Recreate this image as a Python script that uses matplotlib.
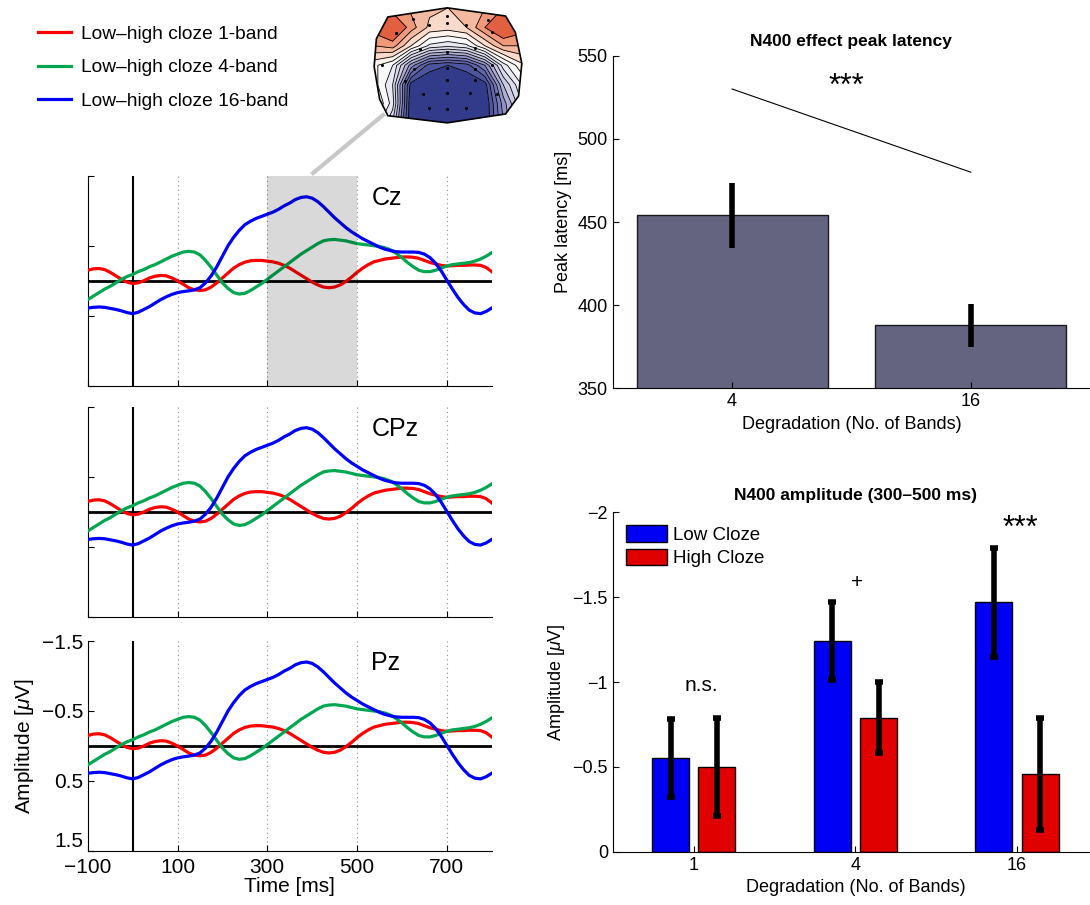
import numpy as np
import matplotlib
matplotlib.use('Agg')
import matplotlib.pyplot as plt
from matplotlib.colors import LinearSegmentedColormap, TwoSlopeNorm
from matplotlib.lines import Line2D
from matplotlib.patches import Polygon

plt.rcParams['font.family'] = ['Liberation Sans', 'DejaVu Sans']
plt.rcParams['mathtext.fontset'] = 'custom'
plt.rcParams['mathtext.rm'] = 'Liberation Sans'
plt.rcParams['mathtext.it'] = 'Liberation Sans:italic'

# ERP difference waves (low - high cloze), in uV, read every 12.5 ms
time_ms = np.arange(-100, 800.1, 12.5)
wave_1band = [-0.15, -0.17, -0.175, -0.16, -0.12, -0.07, -0.02, 0.02,
              0.04, 0.03, 0.00, -0.04, -0.065, -0.075, -0.07, -0.04,
              0.00, 0.05, 0.10, 0.13, 0.14, 0.13, 0.09, 0.03,
              -0.04, -0.11, -0.18, -0.23, -0.265, -0.285, -0.29, -0.29,
              -0.28, -0.27, -0.25, -0.22, -0.18, -0.13, -0.08, -0.03,
              0.02, 0.06, 0.09, 0.10, 0.09, 0.06, 0.01, -0.05,
              -0.12, -0.18, -0.23, -0.27, -0.29, -0.31, -0.32, -0.33,
              -0.34, -0.34, -0.335, -0.32, -0.29, -0.26, -0.24, -0.22,
              -0.21, -0.215, -0.22, -0.22, -0.225, -0.225, -0.22, -0.19,
              -0.13]
wave_4band = [0.27, 0.22, 0.17, 0.12, 0.08, 0.03, -0.02, -0.06,
              -0.09, -0.13, -0.16, -0.20, -0.23, -0.27, -0.31, -0.35,
              -0.38, -0.41, -0.42, -0.41, -0.37, -0.29, -0.19, -0.08,
              0.03, 0.11, 0.17, 0.19, 0.18, 0.14, 0.09, 0.04,
              -0.02, -0.08, -0.14, -0.20, -0.26, -0.32, -0.38, -0.43,
              -0.48, -0.53, -0.57, -0.585, -0.59, -0.58, -0.57, -0.55,
              -0.53, -0.52, -0.51, -0.50, -0.49, -0.47, -0.44, -0.39,
              -0.33, -0.26, -0.20, -0.15, -0.13, -0.13, -0.15, -0.18,
              -0.21, -0.23, -0.24, -0.25, -0.26, -0.28, -0.31, -0.35,
              -0.40]
wave_16band = [0.39, 0.38, 0.375, 0.38, 0.395, 0.41, 0.43, 0.455,
               0.47, 0.45, 0.41, 0.37, 0.32, 0.27, 0.23, 0.195,
               0.17, 0.155, 0.145, 0.13, 0.10, 0.03, -0.07, -0.20,
               -0.35, -0.50, -0.62, -0.72, -0.80, -0.85, -0.89, -0.92,
               -0.95, -0.98, -1.02, -1.07, -1.11, -1.16, -1.19, -1.20,
               -1.18, -1.13, -1.06, -0.98, -0.90, -0.83, -0.76, -0.70,
               -0.65, -0.60, -0.56, -0.52, -0.48, -0.45, -0.43, -0.415,
               -0.41, -0.41, -0.41, -0.405, -0.38, -0.33, -0.25, -0.14,
               -0.01, 0.12, 0.24, 0.34, 0.42, 0.46, 0.47, 0.44,
               0.39]
wave_labels = ['Low\u2013high cloze 1-band', 'Low\u2013high cloze 4-band', 'Low\u2013high cloze 16-band']
wave_colors = ['#ff0000', '#00a650', '#0000ff']
electrodes = ['Cz', 'CPz', 'Pz']

# scalp map (300-500 ms), coarse grid, uV, rows top->bottom
topo_x = [0, 0.125, 0.25, 0.375, 0.5, 0.625, 0.75, 0.875, 1.0]
topo_y = [0, 0.17, 0.33, 0.5, 0.67, 0.83, 1.0]
topo_vals = [
    [0.5, 0.7, 0.55, 0.45, 0.4, 0.45, 0.6, 0.8, 0.6],
    [0.9, 1.1, 0.7, 0.35, 0.3, 0.4, 0.8, 1.1, 0.9],
    [0.6, 0.7, 0.2, -0.25, -0.35, -0.25, 0.2, 0.6, 0.6],
    [0.05, -0.2, -1.1, -1.7, -1.8, -1.7, -1.2, -0.3, 0.15],
    [0.1, -0.4, -1.9, -2.0, -2.0, -2.0, -1.9, -0.8, -0.2],
    [0.3, -0.3, -2.0, -2.0, -2.0, -2.0, -2.0, -1.1, -0.4],
    [0.0, -0.6, -2.0, -2.0, -2.0, -2.0, -2.0, -1.2, -0.5],
]
elec_x = [0.26, 0.495, 0.37, 0.495, 0.62, 0.77, 0.15, 0.80, 0.31, 0.495, 0.68,
          0.05, 0.27, 0.495, 0.68, 0.80, 0.21, 0.495, 0.68, 0.33, 0.495, 0.65, 0.83,
          0.37, 0.495, 0.62]
elec_y = [0.10, 0.07, 0.15, 0.13, 0.15, 0.11, 0.22, 0.21, 0.36, 0.38, 0.35,
          0.50, 0.53, 0.52, 0.53, 0.50, 0.64, 0.63, 0.63, 0.75, 0.74, 0.74, 0.75,
          0.87, 0.88, 0.87]
head_x = [0.093, 0.495, 0.890, 0.956, 1.0, 0.978, 0.890, 0.495, 0.093, 0.037, 0.0, 0.015]
head_y = [0.079, 0.0, 0.071, 0.213, 0.483, 0.767, 0.923, 1.0, 0.938, 0.795, 0.511, 0.269]

# peak latency bars
lat_bands = ['4', '16']
lat_vals = [454, 388]
lat_err = [19.5, 13]

# N400 amplitude bars
amp_bands = ['1', '4', '16']
low_cloze = [-0.55, -1.24, -1.47]
low_err = [0.23, 0.23, 0.32]
high_cloze = [-0.50, -0.79, -0.46]
high_err = [0.29, 0.21, 0.33]
amp_sig = ['n.s.', '+', '***']

fig = plt.figure(figsize=(10.9, 9.05), dpi=100)

# ---- ERP panels
erp_pos = [[0.0805, 0.5738, 0.3706, 0.232],
           [0.0805, 0.3177, 0.3706, 0.233],
           [0.0805, 0.0597, 0.3706, 0.232]]
handles = []
for i, name in enumerate(electrodes):
    ax = fig.add_axes(erp_pos[i])
    for t in [100, 300, 500, 700]:
        ax.axvline(t, color='0.55', lw=0.8, ls=(0, (1, 3)), zorder=0)
    ax.axhline(0, color='k', lw=2, zorder=1)
    ax.axvline(0, color='k', lw=1.5, zorder=1)
    for w, c, lab in zip([wave_1band, wave_4band, wave_16band], wave_colors, wave_labels):
        ln, = ax.plot(time_ms, w, color=c, lw=2.3, label=lab, zorder=3,
                      solid_joinstyle='round')
        if i == 0:
            handles.append(ln)
    if i == 0:
        ax.axvspan(300, 500, facecolor='k', alpha=0.15, lw=0, zorder=5)
    ax.text(532, -1.18, name, fontsize=18, va='center', ha='left')
    ax.set_xlim(-100, 800)
    ax.set_ylim(1.5, -1.5)
    ax.set_xticks([-100, 100, 300, 500, 700])
    ax.set_yticks([-1.5, -0.5, 0.5, 1.5])
    ax.tick_params(direction='in', length=4, labelsize=15)
    ax.tick_params(axis='x', pad=5)
    ax.spines['top'].set_visible(False)
    ax.spines['right'].set_visible(False)
    if i < 2:
        ax.set_xticklabels([])
        ax.set_yticklabels([])
    else:
        ax.set_xlabel('Time [ms]', fontsize=15, labelpad=0)
        ax.set_ylabel('Amplitude [$\\mu$V]', fontsize=15, labelpad=4)
        # keep the bottom y label clear of the -100 time label
        ax.get_yticklabels()[-1].set_verticalalignment('bottom')

fig.legend(handles=handles, loc='upper left', bbox_to_anchor=(0.0349, 0.972),
           frameon=False, fontsize=13.8, handlelength=1.7, handletextpad=0.55,
           labelspacing=0.84, borderpad=0, borderaxespad=0)

# connector from the scalp map to the shaded window
fig.add_artist(Line2D([0.3514, 0.2872], [0.8729, 0.8088], color='0.78', lw=3,
                      transform=fig.transFigure))

# ---- scalp map
tax = fig.add_axes([0.3419, 0.863, 0.1382, 0.1296])
cmap = LinearSegmentedColormap.from_list('topo', ['#313b8a', '#7275b8', '#cfcfe8', '#ffffff',
                                                  '#f9d6c4', '#f0a080', '#e2603f'])
norm = TwoSlopeNorm(vmin=-2.0, vcenter=0, vmax=1.0)
levels = [-2.2, -1.8, -1.6, -1.4, -1.2, -1.0, -0.8, -0.6, -0.4, -0.2, 0.0, 0.2, 0.4, 0.6, 0.8, 1.2]
head = Polygon(list(zip(head_x, head_y)), closed=True, fc='none', ec='k', lw=1.2, zorder=4)
tax.add_patch(head)
cf = tax.contourf(topo_x, topo_y, topo_vals, levels=levels, cmap=cmap, norm=norm)
cl = tax.contour(topo_x, topo_y, topo_vals, levels=levels[1:-1], colors='k',
                 linewidths=0.6, linestyles='solid')
cf.set_clip_path(head)
cl.set_clip_path(head)
tax.scatter(elec_x, elec_y, s=1.5, c='k', zorder=5)
tax.set_xlim(-0.01, 1.01)
tax.set_ylim(1.01, -0.01)
tax.axis('off')

# ---- peak latency
ax1 = fig.add_axes([0.5622, 0.5709, 0.4378, 0.3675])
xl = np.arange(1, len(lat_vals) + 1)
ax1.bar(xl, lat_vals, width=0.8, color='#646480', edgecolor='#1a1a1a', lw=1)
ax1.errorbar(xl, lat_vals, yerr=lat_err, fmt='none', ecolor='k', elinewidth=4, capsize=0)
ax1.plot([1, 2], [530, 480], color='k', lw=0.8)
ax1.text(1.48, 531, '***', fontsize=22, ha='center', va='center')
ax1.set_xlim(0.5, 2.5)
ax1.set_ylim(350, 550)
ax1.set_xticks(xl)
ax1.set_xticklabels(lat_bands)
ax1.set_yticks([350, 400, 450, 500, 550])
ax1.tick_params(direction='in', length=4, labelsize=13)
ax1.spines['top'].set_visible(False)
ax1.spines['right'].set_visible(False)
ax1.set_title('N400 effect peak latency', fontsize=12.5, fontweight='bold', pad=7)
ax1.set_ylabel('Peak latency [ms]', fontsize=13)
ax1.set_xlabel('Degradation (No. of Bands)', fontsize=13, labelpad=4)

# ---- N400 amplitude
ax2 = fig.add_axes([0.5622, 0.0589, 0.4451, 0.375])
xa = np.arange(1, len(amp_bands) + 1)
off = 0.143
bw = 0.229
ax2.bar(xa - off, low_cloze, width=bw, color='#0000f5', edgecolor='k', lw=1, label='Low Cloze')
ax2.bar(xa + off, high_cloze, width=bw, color='#e00000', edgecolor='k', lw=1, label='High Cloze')
ax2.errorbar(xa - off, low_cloze, yerr=low_err, fmt='none', ecolor='k', elinewidth=4,
             capsize=3, capthick=4)
ax2.errorbar(xa + off, high_cloze, yerr=high_err, fmt='none', ecolor='k', elinewidth=4,
             capsize=3, capthick=4)
sig_y = [-0.98, -1.585, -1.90]
sig_x = [1.05, 2.01, 3.02]
sig_fs = [15, 15, 22]
for s, x, y, f in zip(amp_sig, sig_x, sig_y, sig_fs):
    ax2.text(x, y, s, fontsize=f, ha='center', va='center')
ax2.set_xlim(0.5, 3.5)
ax2.set_ylim(0, -2)
ax2.set_xticks(xa)
ax2.set_xticklabels(amp_bands)
ax2.set_yticks([0, -0.5, -1, -1.5, -2])
ax2.set_yticklabels(['0', '\u22120.5', '\u22121', '\u22121.5', '\u22122'])
ax2.tick_params(direction='in', length=4, labelsize=13)
ax2.spines['top'].set_visible(False)
ax2.spines['right'].set_visible(False)
ax2.set_title('N400 amplitude (300\u2013500 ms)', fontsize=12.5, fontweight='bold', pad=9)
ax2.set_ylabel('Amplitude [$\\mu$V]', fontsize=13)
ax2.set_xlabel('Degradation (No. of Bands)', fontsize=13, labelpad=4)
ax2.legend(loc='upper left', frameon=False, fontsize=13.5, handlelength=2.2, handleheight=0.95,
           handletextpad=0.3, labelspacing=0.25, borderaxespad=0.3, borderpad=0.4)

fig.savefig('out.png', dpi=100)
